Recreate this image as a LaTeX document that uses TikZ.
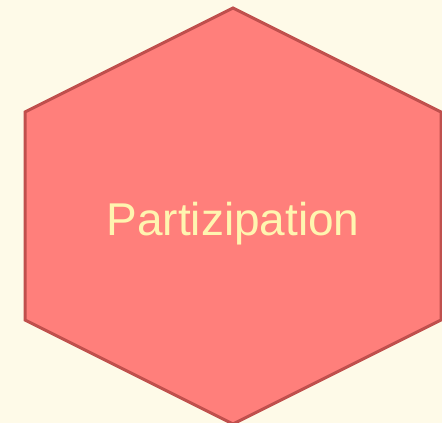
\documentclass[tikz,border=0pt]{standalone}
\usepackage{fontspec}
\setmainfont{Liberation Sans}
\definecolor{bg}{HTML}{FEFAE8}
\definecolor{hexfill}{HTML}{FF7F7B}
\definecolor{hexline}{HTML}{C0504D}
\definecolor{txt}{HTML}{FFF5B0}
\tikzset{hexshape/.style={fill=hexfill,draw=hexline,line width=3pt,line join=miter}}
\begin{document}
\begin{tikzpicture}[x=1pt,y=-1pt]
\fill[bg] (0,0) rectangle (442,423);
\useasboundingbox (0,0) rectangle (442,423);
\draw[hexshape] (233,8) -- (441,112) -- (441,320) -- (233,424) -- (25,320) -- (25,112) -- cycle;
\node[text=txt,font=\fontsize{46}{55}\selectfont,inner sep=0pt,anchor=base] (label) at (233,235) {Partizipation};
\end{tikzpicture}
\end{document}
